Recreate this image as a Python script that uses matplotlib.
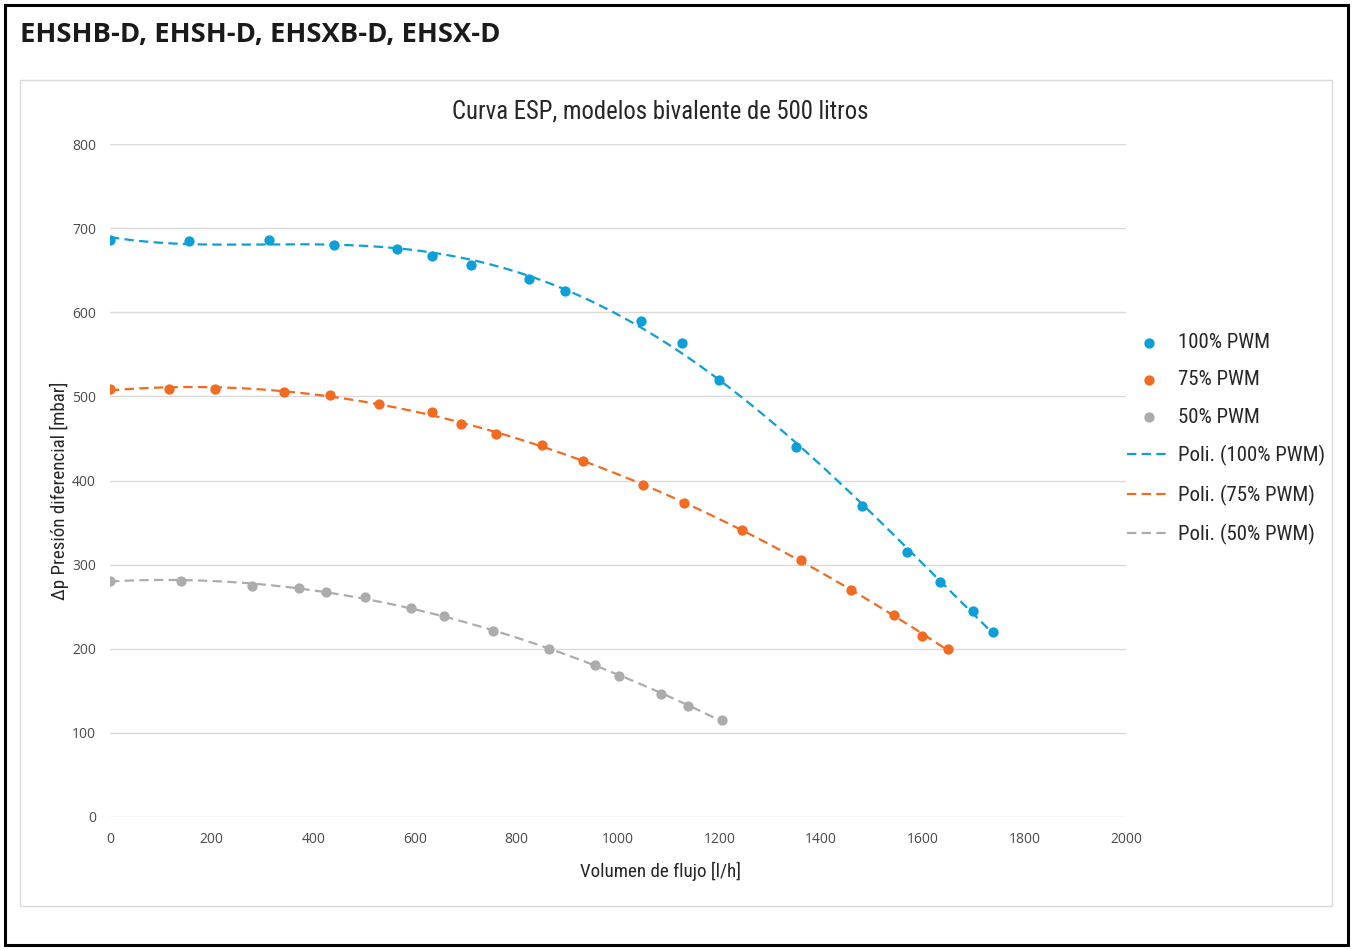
import numpy as np
import matplotlib.pyplot as plt
from matplotlib.patches import Rectangle
from matplotlib import font_manager as fm

# data
x100 = [0, 155, 313, 441, 565, 634, 711, 825, 896, 1045, 1126, 1199, 1350, 1480, 1569, 1634, 1699, 1738]
y100 = [686, 685, 686, 680, 675, 667, 656, 640, 625, 590, 563, 519, 440, 370, 315, 279, 245, 220]
x75 = [0, 116, 207, 343, 433, 530, 634, 691, 760, 850, 931, 1049, 1130, 1244, 1360, 1459, 1543, 1598, 1650]
y75 = [509, 509, 509, 505, 502, 491, 481, 467, 455, 442, 423, 395, 373, 341, 305, 270, 240, 215, 200]
x50 = [0, 140, 280, 372, 425, 502, 593, 657, 754, 864, 955, 1002, 1085, 1138, 1205]
y50 = [281, 281, 275, 272, 267, 262, 248, 239, 221, 200, 181, 168, 146, 132, 115]

series = [("100% PWM", x100, y100, "#0c9fd8", 4),
          ("75% PWM", x75, y75, "#f26b21", 3),
          ("50% PWM", x50, y50, "#acacac", 3)]

# a narrow sans if there is one, else Liberation Sans a bit smaller
names = {f.name for f in fm.fontManager.ttflist}
fam = "Liberation Sans"
k = 0.83
for n in ["Roboto Condensed", "Liberation Sans Narrow", "Arial Narrow"]:
    if n in names:
        fam = n
        k = 1.0
        break
narrow = [fam, "DejaVu Sans"]

fig = plt.figure(figsize=(13.53, 9.5), dpi=100)
W, H = 1353, 950

# outer frame and chart frame
fig.patches.append(Rectangle((5 / W, 5 / H), 1343 / W, 940 / H, transform=fig.transFigure,
                             fill=False, edgecolor="black", linewidth=2.2))
fig.patches.append(Rectangle((20 / W, 1 - 906 / H), 1312 / W, 826 / H, transform=fig.transFigure,
                             fill=False, edgecolor="#d9d9d9", linewidth=1))

fig.text(20 / W, 1 - 35 / H, "EHSHB-D, EHSH-D, EHSXB-D, EHSX-D", fontfamily="Open Sans",
         fontweight="bold", fontsize=19.7, va="center", ha="left", color="#1a1a1a")

# chart title, centred like the reference (not on the axes)
fig.text(660 / W, 1 - 112 / H, "Curva ESP, modelos bivalente de 500 litros", fontfamily=narrow,
         fontsize=17.8 * k, color="#262626", ha="center", va="center")

ax = fig.add_axes([110 / W, 1 - 817 / H, 1016 / W, 673 / H])

dots = []
lines = []
for name, xs, ys, col, deg in series:
    xs = np.array(xs, dtype=float)
    ys = np.array(ys, dtype=float)
    d = ax.scatter(xs, ys, s=55, color=col, zorder=3, label=name, linewidths=0)
    dots.append(d)
    coef = np.polyfit(xs, ys, deg)
    xf = np.linspace(xs.min(), xs.max(), 300)
    l, = ax.plot(xf, np.polyval(coef, xf), color=col, lw=1.6, ls=(0, (4.2, 2.4)),
                 zorder=2, label="Poli. (" + name + ")")
    lines.append(l)

ax.set_xlim(0, 2000)
ax.set_ylim(0, 800)
ax.set_xticks(np.arange(0, 2001, 200))
ax.set_yticks(np.arange(0, 801, 100))
ax.grid(axis="y", color="#d9d9d9", lw=1)
ax.set_axisbelow(True)
for s in ax.spines.values():
    s.set_visible(False)
ax.tick_params(length=0, labelsize=10, labelcolor="#4a4a4a")
ax.tick_params(axis="x", pad=11)
ax.tick_params(axis="y", pad=10)
for lab in ax.get_xticklabels() + ax.get_yticklabels():
    lab.set_fontfamily("Open Sans")

ax.set_xlabel("Volumen de flujo [l/h]", fontfamily=narrow, fontsize=13.7 * k, color="#262626")
ax.set_ylabel("\u0394p Presión diferencial [mbar]", fontfamily=narrow, fontsize=13.7 * k,
              color="#262626")
ax.xaxis.set_label_coords((660 - 110) / 1016, -(862 - 817) / 673)
ax.yaxis.set_label_coords(-(110 - 69) / 1016, (817 - 491) / 673)

leg = fig.legend(dots + lines, [h.get_label() for h in dots + lines],
                 loc="upper left", bbox_to_anchor=(1127 / W, 1 - 333 / H), frameon=False,
                 prop={"family": narrow, "size": 15 * k}, labelspacing=0.88, borderpad=0,
                 borderaxespad=0, handlelength=2.07, handletextpad=0.38, labelcolor="#262626")

fig.savefig("out.png", dpi=100)
